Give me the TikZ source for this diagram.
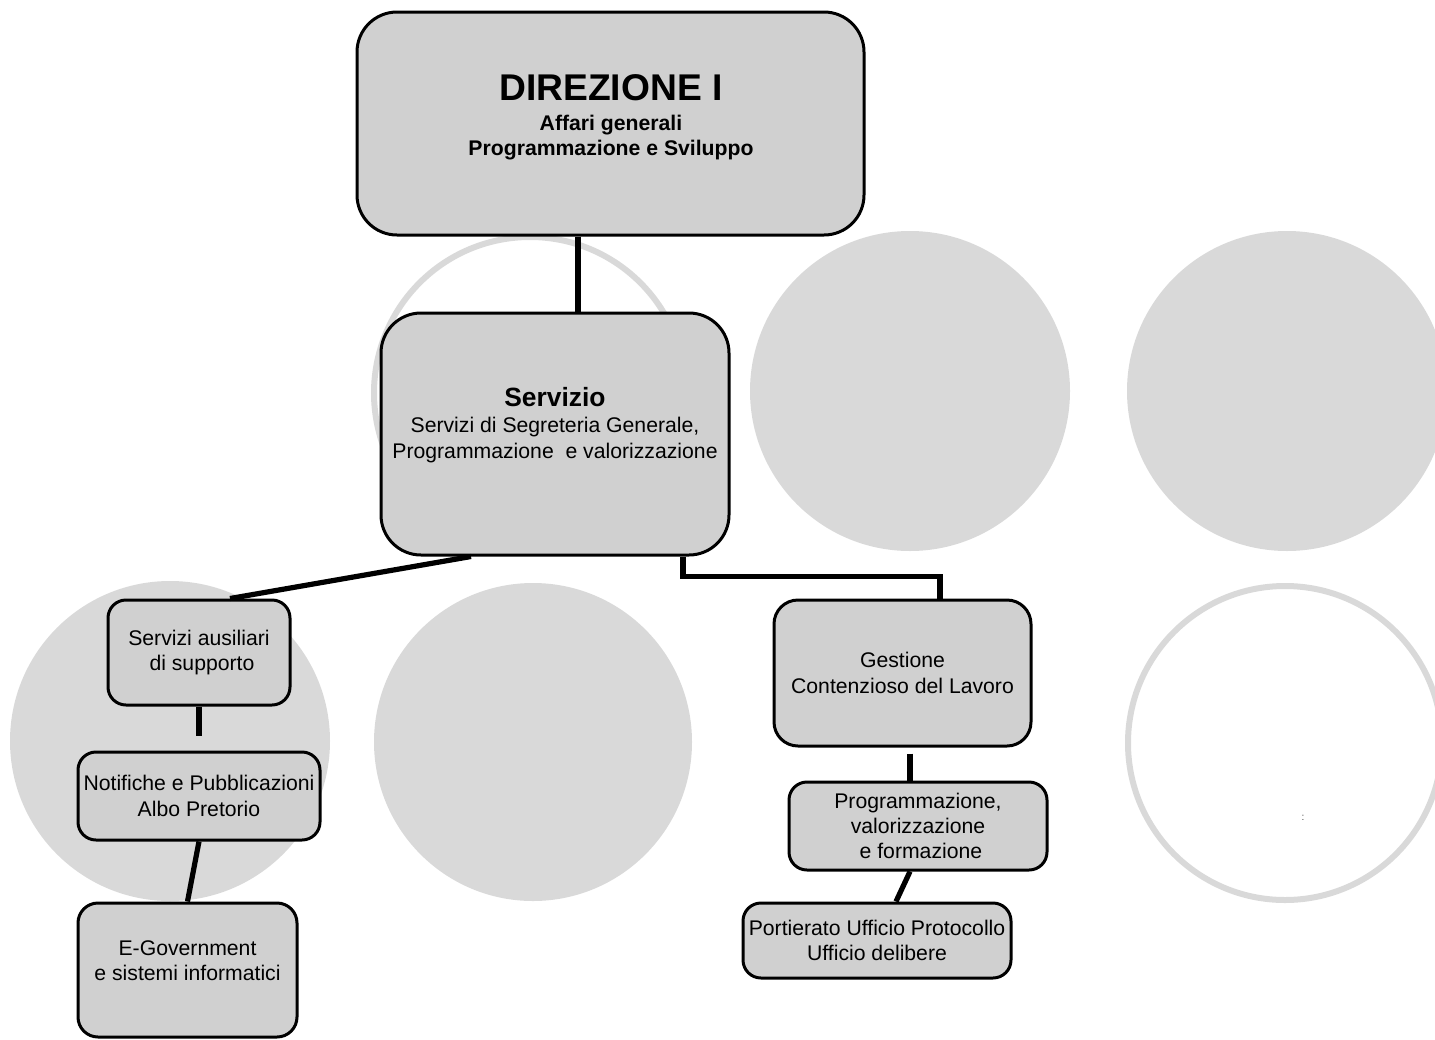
\documentclass[tikz,border=0pt]{standalone}
\usepackage{fontspec}
\setmainfont{Liberation Sans}
\usepackage{tikz}
\definecolor{boxgray}{HTML}{D0D0D0}
\definecolor{ringgray}{HTML}{D9D9D9}

\begin{document}
\begin{tikzpicture}[x=0.5pt, y=-0.5pt,
    box/.style={draw, line width=1.5pt, fill=boxgray, rounded corners=#1, inner sep=1pt, align=center, font=\fontsize{10.6}{12.6}\selectfont},
    box/.default=9pt,
    link/.style={line width=2.6pt},
    disc/.style={fill=ringgray},
    ring/.style={draw=ringgray, line width=3pt}]
      \useasboundingbox (0,0) rectangle (1435,1039);
      \clip (0,0) rectangle (1435,1039);
      \fill[disc] (910,391) circle[radius=80pt];
      \fill[disc] (1287,391) circle[radius=80pt];
      \fill[disc] (170,741) circle[radius=80pt];
      \fill[disc] (533,742) circle[radius=79.5pt];
      \draw[ring] (530,393) circle[radius=78pt];
      \draw[ring] (1285,743) circle[radius=78.5pt];
      \node[font=\fontsize{5}{5}\selectfont, text=gray!60!black] (colon) at (1303,818) {:};
      \node[box=20pt, minimum width=253.5pt, minimum height=111.5pt] (dir) at (610.5,123.5) {};
      \node[align=center, font=\bfseries\fontsize{10.6}{12.5}\selectfont] (dirtxt) at (611,117)
        {{\fontsize{18.6}{19}\selectfont DIREZIONE I}\\[2.5pt] Affari generali\\ Programmazione e Sviluppo};
      \node[box=20pt, minimum width=174pt, minimum height=121pt] (serv) at (555,434) {};
      \node[align=center, font=\fontsize{10.6}{13}\selectfont] (servtxt) at (555,425)
        {{\bfseries\fontsize{13.2}{14}\selectfont Servizio}\\ Servizi di Segreteria Generale,\\ Programmazione~ e valorizzazione};
      \node[box, minimum width=91pt, minimum height=52.5pt] (ausil) at (199,652.5) {Servizi ausiliari\\ \ di supporto};
      \node[box, minimum width=121pt, minimum height=44pt] (notif) at (199,796) {Notifiche e Pubblicazioni\\ Albo Pretorio};
      \node[box=10pt, minimum width=109.5pt, minimum height=67pt] (egov) at (187.5,970) {};
      \node[align=center, font=\fontsize{10.6}{12.6}\selectfont] (egovtxt) at (187.5,961) {E-Government\\ e sistemi informatici};
      \node[box=12pt, minimum width=128.5pt, minimum height=73pt] (gest) at (902.5,673) {Gestione\\ Contenzioso del Lavoro};
      \node[box, minimum width=129pt, minimum height=44pt] (progr) at (918,826) {Programmazione,\\ valorizzazione\\ \ e formazione};
      \node[box, minimum width=134pt, minimum height=37.5pt] (port) at (877,940.5) {Portierato Ufficio Protocollo\\ Ufficio delibere};
      \draw[link] ([xshift=-16.25pt]dir.south) -- ([xshift=11.5pt]serv.north);
      \draw[link] ([xshift=-42pt]serv.south) -- ([xshift=15.5pt]ausil.north);
      \draw[link] ([xshift=64pt]serv.south) |- ([xshift=18.75pt, yshift=11pt]gest.north) -- ([xshift=18.75pt]gest.north);
      \draw[link, shorten >=7.5pt] (ausil.south) -- (ausil.south |- notif.north);
      \draw[link] (notif.south) -- (egov.north);
      \draw[link, shorten <=3pt] ([xshift=3.75pt]gest.south) -- ([xshift=3.75pt]gest.south |- progr.north);
      \draw[link] ([xshift=-4pt]progr.south) -- ([xshift=9.5pt]port.north);
    \end{tikzpicture}
\end{document}
